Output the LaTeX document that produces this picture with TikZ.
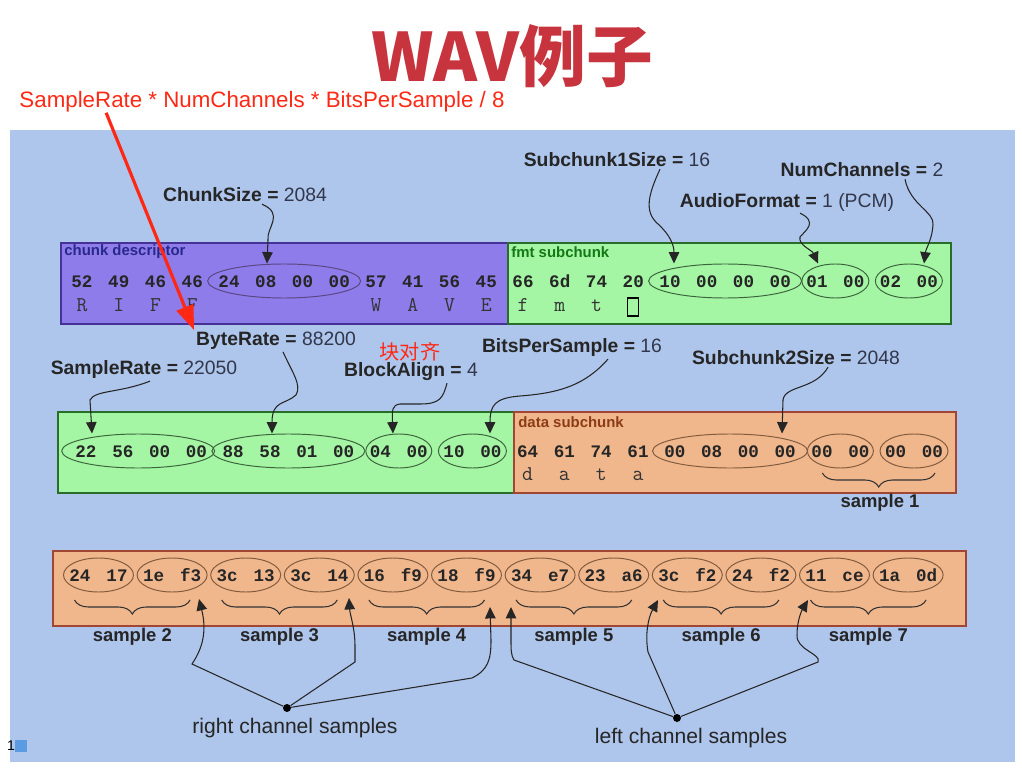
\documentclass[tikz,border=0pt]{standalone}
\usepackage{fontspec}
\setmainfont{Liberation Sans}
\newfontfamily\bytefont{Liberation Mono}
\newfontfamily\cjk{Noto Sans CJK SC}
\usetikzlibrary{arrows.meta, shapes.geometric, decorations.pathreplacing, calc}

\definecolor{panelblue}{RGB}{174,197,236}
\definecolor{riffpurple}{RGB}{142,124,234}
\definecolor{riffline}{RGB}{70,50,150}
\definecolor{riffdark}{RGB}{40,40,140}
\definecolor{fmtgreen}{RGB}{164,246,164}
\definecolor{fmtline}{RGB}{40,110,40}
\definecolor{fmtdark}{RGB}{20,120,20}
\definecolor{dataorange}{RGB}{240,182,140}
\definecolor{dataline}{RGB}{160,70,50}
\definecolor{datadark}{RGB}{140,60,20}
\definecolor{ovpurple}{RGB}{90,70,130}
\definecolor{ovgreen}{RGB}{60,100,60}
\definecolor{ovbrown}{RGB}{130,90,60}
\definecolor{titlered}{RGB}{200,52,62}
\definecolor{notered}{RGB}{255,40,20}
\definecolor{valgray}{RGB}{50,55,75}
\definecolor{pageblue}{RGB}{90,155,225}

\tikzset{
    chunkbox/.style={rectangle, anchor=north west, inner sep=0pt, line width=0.9pt},
    boxlabel/.style={anchor=west, inner sep=0pt, font=\fontsize{8.5pt}{10pt}\selectfont\bfseries},
    byte/.style={inner sep=0pt, text height=7pt, text depth=0pt, font=\bytefont\bfseries\fontsize{10pt}{12pt}\selectfont, text=black!85},
    ascii/.style={inner sep=0pt, text height=7.5pt, text depth=0pt, font=\ttfamily\fontsize{12pt}{14pt}\selectfont, text=black!80},
    oval/.style={ellipse, draw=#1, line width=0.55pt, inner sep=0pt, minimum height=6.8mm},
    field/.style={inner sep=1pt, font=\fontsize{11pt}{13pt}\selectfont, text=black!85},
    samplelbl/.style={inner sep=0pt, font=\fontsize{10.5pt}{12pt}\selectfont\bfseries, text=black!85},
    chanlbl/.style={inner sep=0pt, font=\fontsize{12pt}{14pt}\selectfont, text=black!85},
    ptr/.style={-{Triangle[length=6.5pt,width=6pt]}, line width=0.6pt, black!85},
    redptr/.style={-{Triangle[length=14pt,width=10pt]}, line width=1.8pt, notered},
    pick/.style={circle, fill=black, inner sep=0pt, minimum size=1.6mm},
    sbrace/.style={decorate, decoration={brace, mirror, amplitude=2.8mm}, line width=0.6pt, black!80},
}

\begin{document}
\begin{tikzpicture}[x=0.2mm, y=-0.2mm]
\useasboundingbox (0,0) rectangle (1022,775);

% panel
\fill[panelblue] (10,130) rectangle (1015,762);

% title and note
\node[inner sep=0pt, text=titlered, font=\cjk\bfseries\fontsize{38pt}{42pt}\selectfont] (title) at (512,56) {WAV例子};
\node[inner sep=0pt, text=notered, font=\fontsize{12.7pt}{15pt}\selectfont] (formula) at (262,102) {SampleRate * NumChannels * BitsPerSample / 8};

% chunk boxes
\node[chunkbox, fill=riffpurple, draw=riffline, minimum width=89.4mm, minimum height=16.2mm] (riff) at (60,242) {};
\node[chunkbox, fill=fmtgreen, draw=fmtline, minimum width=88.6mm, minimum height=16.2mm] (fmt) at (507,242) {};
\node[chunkbox, fill=fmtgreen, draw=fmtline, minimum width=91.2mm, minimum height=16.2mm] (fmt2) at (57,411) {};
\node[chunkbox, fill=dataorange, draw=dataline, minimum width=88.4mm, minimum height=16.2mm] (data) at (513,411) {};
\node[chunkbox, fill=dataorange, draw=dataline, minimum width=182.6mm, minimum height=15mm] (data2) at (52,550) {};

\node[boxlabel, text=riffdark] at ([xshift=0.8mm,yshift=-2mm]riff.north west) {chunk descriptor};
\node[boxlabel, text=fmtdark] at ([xshift=0.8mm,yshift=-2mm]fmt.north west) {fmt subchunk};
\node[boxlabel, text=datadark] at ([xshift=1mm,yshift=-2.2mm]data.north west) {data subchunk};

% bytes, row 1
\foreach \b [count=\i from 0] in {52,49,46,46,24,08,00,00,57,41,56,45,66,6d,74,20,10,00,00,00,01,00,02,00}
    \node[byte] (r1b\i) at ({82+36.75*\i},281) {\b};
\foreach \c/\i in {R/0,I/1,F/2,F/3,W/8,A/9,V/10,E/11,f/12,m/13,t/14}
    \node[ascii] at (r1b\i |- 0,305) {\c};
\node[draw, line width=0.6pt, inner sep=0pt, minimum width=2.2mm, minimum height=3.6mm] (spc) at (r1b15 |- 0,307) {};

% bytes, row 2
\foreach \b [count=\i from 0] in {22,56,00,00,88,58,01,00,04,00,10,00,64,61,74,61,00,08,00,00,00,00,00,00}
    \node[byte] (r2b\i) at ({86+36.8*\i},451) {\b};
\foreach \c/\i in {d/12,a/13,t/14,a/15}
    \node[ascii] at (r2b\i |- 0,474) {\c};

% ovals
\node[oval=ovpurple, minimum width=30.6mm] (ovChunk) at ($(r1b4)!0.5!(r1b7)$) {};
\node[oval=ovgreen, minimum width=30.6mm] (ovSub1) at ($(r1b16)!0.5!(r1b19)$) {};
\node[oval=ovgreen, minimum width=13.4mm] (ovFormat) at ($(r1b20)!0.5!(r1b21)$) {};
\node[oval=ovgreen, minimum width=13.4mm] (ovChan) at ($(r1b22)!0.5!(r1b23)$) {};
\node[oval=ovgreen, minimum width=30.6mm] (ovRate) at ($(r2b0)!0.5!(r2b3)+(-3,0)$) {};
\node[oval=ovgreen, minimum width=30.6mm] (ovByteRate) at ($(r2b4)!0.5!(r2b7)$) {};
\node[oval=ovgreen, minimum width=13.2mm] (ovAlign) at ($(r2b8)!0.5!(r2b9)$) {};
\node[oval=ovgreen, minimum width=13.6mm] (ovBits) at ($(r2b10)!0.5!(r2b11)$) {};
\node[oval=ovbrown, minimum width=31mm] (ovSub2) at ($(r2b16)!0.5!(r2b19)$) {};
\node[oval=ovbrown, minimum width=13.2mm] (ovS1a) at ($(r2b20)!0.5!(r2b21)$) {};
\node[oval=ovbrown, minimum width=13.6mm] (ovS1b) at ($(r2b22)!0.5!(r2b23)$) {};

% row 3 samples
\foreach \lo/\hi [count=\j from 0] in {24/17,1e/f3,3c/13,3c/14,16/f9,18/f9,34/e7,23/a6,3c/f2,24/f2,11/ce,1a/0d} {
    \node[oval=ovbrown, minimum width=14mm] (s\j) at ({98.5+73.6*\j},575) {};
    \node[byte] at ([xshift=-3.7mm]s\j.center) {\lo};
    \node[byte] at ([xshift=3.7mm]s\j.center) {\hi};
}
\foreach \a/\b/\n in {0/1/2,2/3/3,4/5/4,6/7/5,8/9/6,10/11/7} {
    \draw[sbrace] ($(s\a.center |- 0,600)+(-24,0)$) -- ($(s\b.center |- 0,600)+(18,0)$);
    \node[samplelbl] at ($(s\a)!0.5!(s\b)+(-3,62)$) {sample \n};
}
\draw[sbrace] ($(ovS1a.center |- 0,473)+(-18,0)$) -- ($(ovS1b.center |- 0,473)+(21,0)$);
\node[samplelbl] (smp1) at (880,503) {sample 1};

% field labels
\node[field] (lblChunk) at (245,195) {\bfseries ChunkSize = \mdseries\textcolor{valgray}{2084}};
\node[field] (lblSub1) at (617,160) {\bfseries Subchunk1Size = \mdseries\textcolor{valgray}{16}};
\node[field] (lblFormat) at (787,202) {\bfseries AudioFormat = \mdseries\textcolor{valgray}{1 (PCM)}};
\node[field] (lblChan) at (862,170) {\bfseries NumChannels = \mdseries\textcolor{valgray}{2}};
\node[field] (lblByteRate) at (276,341) {\bfseries ByteRate = \mdseries\textcolor{valgray}{88200}};
\node[field] (lblRate) at (144,370) {\bfseries SampleRate = \mdseries\textcolor{valgray}{22050}};
\node[field] (lblAlign) at (411,372) {\bfseries BlockAlign = \mdseries\textcolor{valgray}{4}};
\node[field] (lblBits) at (572,348) {\bfseries BitsPerSample = \mdseries\textcolor{valgray}{16}};
\node[field] (lblSub2) at (796,358) {\bfseries Subchunk2Size = \mdseries\textcolor{valgray}{2048}};
\node[inner sep=0pt, text=notered, font=\cjk\fontsize{11.5pt}{13pt}\selectfont] (alignNote) at (410,352) {块对齐};

% pointers, row 1
\draw[ptr] (262,0 |- lblChunk.south) .. controls (285,214) and (266,228) .. (268,240) -- (267,0 |- ovChunk.north);
\draw[ptr] (660,0 |- lblSub1.south) .. controls (648,195) and (644,212) .. (658,224) .. controls (670,235) and (674,245) .. (674,0 |- ovSub1.north);
\draw[ptr] (800,0 |- lblFormat.south) .. controls (818,222) and (806,230) .. (800,237) .. controls (798,245) and (812,250) .. (818,0 |- ovFormat.north);
\draw[ptr] (905,0 |- lblChan.south) .. controls (910,205) and (935,212) .. (933,225) .. controls (932,240) and (926,248) .. (924,0 |- ovChan.north);

% pointers, row 2
\draw[ptr] (150,0 |- lblRate.south) .. controls (120,393) and (95,390) .. (90,400) -- (92,0 |- ovRate.north);
\draw[ptr] (283,0 |- lblByteRate.south) .. controls (292,372) and (302,385) .. (296,395) .. controls (285,405) and (272,400) .. (272,0 |- ovByteRate.north);
\draw[ptr] (447,0 |- lblAlign.south) .. controls (443,398) and (440,404) .. (420,404) -- (400,404) .. controls (392,405) and (392,410) .. (393,0 |- ovAlign.north);
\draw[ptr] (608,0 |- lblBits.south) .. controls (585,385) and (560,393) .. (520,396) .. controls (495,398) and (490,405) .. (490,0 |- ovBits.north);
\draw[ptr] (828,0 |- lblSub2.south) .. controls (815,390) and (785,385) .. (783,400) -- (782,0 |- ovSub2.north);

% channel pickers
\node[pick] (rdot) at (287,708) {};
\node[pick] (ldot) at (677,718) {};
\node[chanlbl] (rlbl) at (295,728) {right channel samples};
\node[chanlbl] (llbl) at (691,738) {left channel samples};

\draw[ptr] (rdot) -- (192,664) .. controls (200,652) and (208,635) .. (199,599);
\draw[ptr] (rdot) -- (355,662) -- (355,646) .. controls (355,628) and (350,615) .. (349,598);
\draw[ptr] (rdot) -- (472,678) .. controls (488,670) and (491,660) .. (491,640) -- (490,607);
\draw[ptr] (ldot) -- (514,660) .. controls (511,655) and (511,650) .. (511,640) -- (511,607);
\draw[ptr] (ldot) -- (648,652) .. controls (645,635) and (648,618) .. (658,600);
\draw[ptr] (ldot) -- (818,662) .. controls (822,654) and (796,650) .. (797,635) .. controls (797,620) and (802,610) .. (808,600);

% red remark arrow
\draw[redptr] ([xshift=17.4mm]formula.south west) -- (lblByteRate.north west);

% page marker
\node[inner sep=0pt, font=\fontsize{8pt}{9pt}\selectfont] (pagenum) at (11,746) {1};
\fill[pageblue] (15,740) rectangle (27,752);
\end{tikzpicture}
\end{document}
